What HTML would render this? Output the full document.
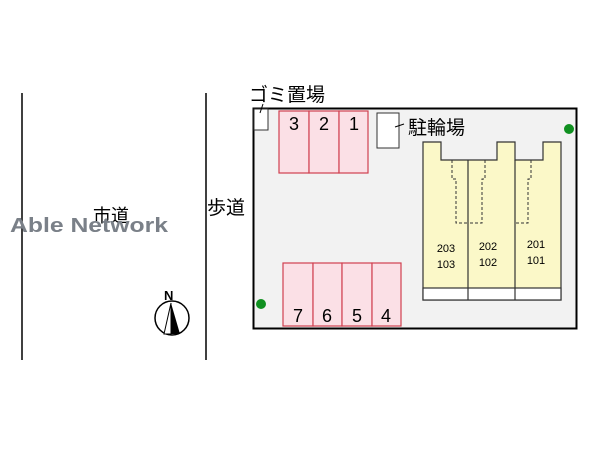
<!DOCTYPE html>
<html><head><meta charset="utf-8"><style>
body{margin:0;background:#fff;}
svg{display:block;font-family:"Liberation Sans","Noto Sans CJK JP",sans-serif;}
</style></head><body>
<svg width="600" height="450" viewBox="0 0 600 450">
<line x1="22" y1="93" x2="22" y2="360" stroke="#000" stroke-width="1.5"/>
<line x1="206" y1="93" x2="206" y2="360" stroke="#000" stroke-width="1.5"/>
<text x="93" y="222" font-size="18" fill="#000">市道</text>
<text x="10" y="232" font-size="20" font-weight="bold" fill="#7a8088" textLength="158" lengthAdjust="spacingAndGlyphs">Able Network</text>
<text x="207" y="214" font-size="19" fill="#000">歩道</text>
<text x="164" y="300" font-size="13" font-weight="bold" fill="#000">N</text>
<circle cx="172" cy="318" r="17" fill="#fff" stroke="#000" stroke-width="1.5"/>
<polygon points="171,303 164,334 171,334" fill="#fff" stroke="#000" stroke-width="1"/>
<polygon points="171,303 180,334 171,334" fill="#000"/>
<rect x="253.5" y="108.5" width="323" height="220" fill="#f2f2f2" stroke="#000" stroke-width="2"/>
<text x="249" y="101" font-size="19" fill="#000">ゴミ置場</text>
<rect x="254" y="109" width="14" height="21" fill="#fff" stroke="#333"/>
<line x1="263" y1="104" x2="260" y2="113" stroke="#000"/>
<g fill="#fbe0e6" stroke="#d04050" stroke-width="1.2">
<rect x="279" y="111" width="30" height="62"/><rect x="309" y="111" width="30" height="62"/><rect x="339" y="111" width="29" height="62"/>
<rect x="283" y="263" width="30" height="63"/><rect x="313" y="263" width="29" height="63"/><rect x="342" y="263" width="30" height="63"/><rect x="372" y="263" width="29" height="63"/>
</g>
<g font-size="18" fill="#000" text-anchor="middle">
<text x="294" y="130">3</text><text x="324" y="130">2</text><text x="354" y="130">1</text>
<text x="298" y="322">7</text><text x="327" y="322">6</text><text x="357" y="322">5</text><text x="386" y="322">4</text>
</g>
<rect x="377" y="113" width="22" height="35" fill="#fff" stroke="#333"/>
<line x1="395" y1="127" x2="404" y2="124" stroke="#000"/>
<text x="408" y="134" font-size="19" fill="#000">駐輪場</text>
<polygon points="423,142 441,142 441,160 497,160 497,142 515,142 515,160 543,160 543,142 561,142 561,300 423,300" fill="#fbf8c8" stroke="#333" stroke-width="1.2"/>
<rect x="423" y="288" width="138" height="12" fill="#fff" stroke="#333" stroke-width="1.2"/>
<line x1="468" y1="160" x2="468" y2="300" stroke="#333" stroke-width="1.2"/>
<line x1="515" y1="160" x2="515" y2="300" stroke="#333" stroke-width="1.2"/>
<g fill="none" stroke="#333" stroke-dasharray="3,2">
<polyline points="452,160 452,179 456,179 456,223 468,223"/>
<polyline points="485,160 485,179 482,179 482,223 468,223"/>
<polyline points="531,160 531,179 528,179 528,223 515,223"/>
</g>
<g font-size="11" fill="#000" text-anchor="middle">
<text x="446" y="252">203</text><text x="446" y="268">103</text>
<text x="488" y="250">202</text><text x="488" y="266">102</text>
<text x="536" y="248">201</text><text x="536" y="264">101</text>
</g>
<circle cx="569" cy="129" r="5" fill="#109020"/>
<circle cx="261" cy="304" r="5" fill="#109020"/>
</svg>
</body></html>
